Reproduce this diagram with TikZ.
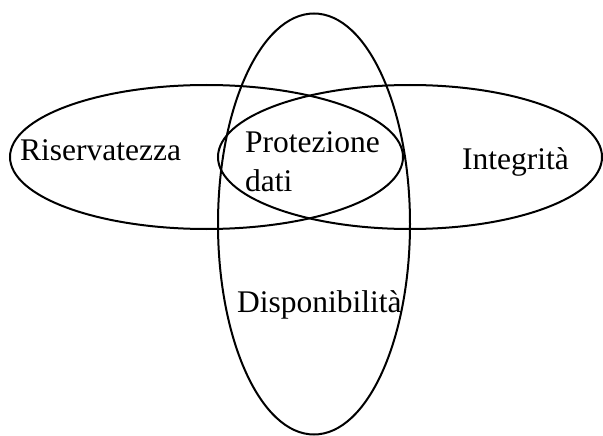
\documentclass[tikz,border=0pt]{standalone}
\usepackage{fontspec}
\setmainfont{Liberation Serif}
\begin{document}
\begin{tikzpicture}[x=1pt,y=-1pt,
  ring/.style={draw=black,line width=2pt},
  lbl/.style={inner sep=0pt,anchor=base west,font=\fontsize{31.5pt}{38pt}\selectfont}]
\useasboundingbox (0,0) rectangle (603,436);
\draw[ring] (206.5,157) ellipse [x radius=196.5, y radius=72];
\draw[ring] (410,157) ellipse [x radius=192, y radius=72];
\draw[ring] (314,224) ellipse [x radius=96, y radius=210.5];
\node[lbl] (ris) at (20,160) {Riservatezza};
\node[lbl] (int) at (462,169) {Integrità};
\node[lbl] (pro) at (245,153) {Protezione};
\node[lbl] (dat) at (245,191) {dati};
\node[lbl] (dis) at (237,312) {Disponibilità};
\end{tikzpicture}
\end{document}
